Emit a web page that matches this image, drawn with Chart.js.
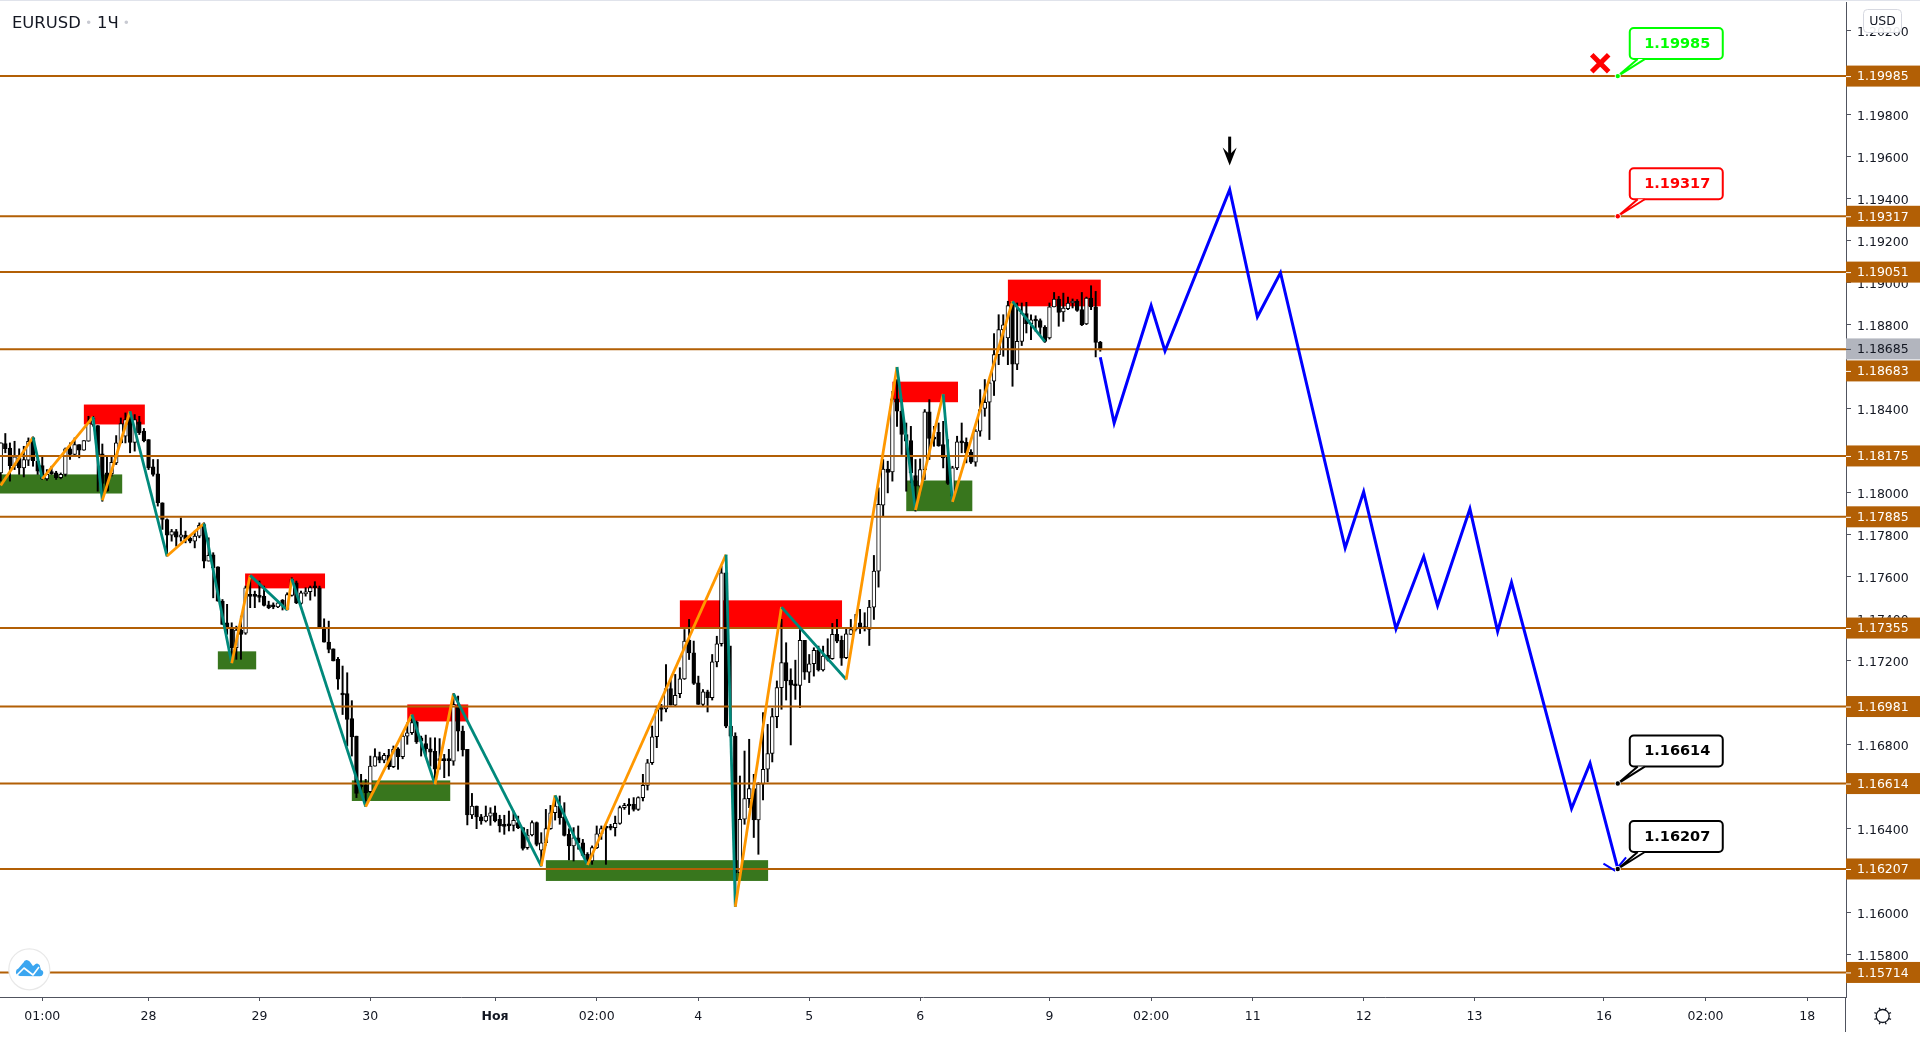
<!DOCTYPE html>
<html>
<head>
<meta charset="utf-8">
<title>EURUSD 1Ч</title>
<script src="https://cdn.jsdelivr.net/npm/chart.js@4/dist/chart.umd.min.js"></script>
<style>
  html, body { margin: 0; padding: 0; background: #ffffff; }
  canvas { display: block; }
</style>
</head>
<body>
<canvas id="chart" width="1920" height="1032"></canvas>
<script>
// Hourly candles
const openPrices = [
  1.18094,1.18234,1.18213,1.18129,1.18166,1.18118,1.18155,1.18261,1.18150,1.18129,
  1.18066,1.18094,1.18094,1.18072,1.18087,1.18209,1.18182,1.18229,1.18202,1.18245,
  1.18325,1.18320,1.18185,1.18094,1.18091,1.18142,1.18237,1.18269,1.18348,1.18240,
  1.18337,1.18293,1.18253,1.18123,1.18090,1.17952,1.17872,1.17798,1.17815,1.17788,
  1.17798,1.17782,1.17769,1.17793,1.17848,1.17674,1.17704,1.17647,1.17483,1.17380,
  1.17356,1.17261,1.17345,1.17330,1.17512,1.17512,1.17507,1.17507,1.17466,1.17463,
  1.17456,1.17488,1.17444,1.17510,1.17571,1.17472,1.17518,1.17528,1.17552,1.17547,
  1.17360,1.17288,1.17256,1.17206,1.17042,1.17043,1.16924,1.16840,1.16605,1.16605,
  1.16575,1.16697,1.16742,1.16726,1.16748,1.16694,1.16780,1.16742,1.16840,1.16856,
  1.16907,1.16832,1.16804,1.16780,1.16767,1.16729,1.16729,1.16729,1.16721,1.16983,
  1.16864,1.16777,1.16464,1.16507,1.16456,1.16436,1.16459,1.16475,1.16444,1.16415,
  1.16420,1.16415,1.16428,1.16404,1.16309,1.16369,1.16428,1.16297,1.16332,1.16399,
  1.16475,1.16507,1.16455,1.16372,1.16317,1.16356,1.16332,1.16277,1.16245,1.16309,
  1.16375,1.16407,1.16407,1.16404,1.16424,1.16499,1.16513,1.16515,1.16491,1.16547,
  1.16605,1.16713,1.16837,1.16973,1.16970,1.17067,1.16988,1.17042,1.17113,1.17297,
  1.17237,1.17094,1.16991,1.17051,1.17023,1.17194,1.17280,1.17618,1.16888,1.16840,
  1.16190,1.16444,1.16542,1.16590,1.16441,1.16611,1.16682,1.16758,1.16933,1.17071,
  1.17190,1.17107,1.17087,1.17082,1.17296,1.17145,1.17185,1.17249,1.17155,1.17225,
  1.17209,1.17325,1.17296,1.17214,1.17325,1.17355,1.17380,1.17361,1.17349,1.17455,
  1.17626,1.17940,1.18113,1.18099,1.18447,1.18388,1.18277,1.18248,1.18082,1.18031,
  1.18110,1.18385,1.18261,1.18288,1.18229,1.18174,1.17983,1.18118,1.18243,1.18240,
  1.18193,1.18145,1.18293,1.18401,1.18431,1.18531,1.18658,1.18777,1.18737,1.18907,
  1.18612,1.18721,1.18853,1.18805,1.18824,1.18820,1.18788,1.18737,1.18885,1.18923,
  1.18861,1.18877,1.18904,1.18912,1.18872,1.18804,1.18927,1.18885,1.18716
]
const highPrices = [
  1.18237,1.18282,1.18237,1.18245,1.18209,1.18221,1.18261,1.18266,1.18174,1.18174,
  1.18110,1.18126,1.18102,1.18094,1.18213,1.18237,1.18261,1.18229,1.18248,1.18364,
  1.18364,1.18320,1.18232,1.18174,1.18174,1.18272,1.18356,1.18380,1.18388,1.18372,
  1.18364,1.18306,1.18253,1.18158,1.18158,1.17952,1.17875,1.17825,1.17825,1.17880,
  1.17817,1.17793,1.17817,1.17856,1.17856,1.17785,1.17714,1.17647,1.17491,1.17468,
  1.17380,1.17364,1.17412,1.17555,1.17602,1.17531,1.17579,1.17555,1.17483,1.17475,
  1.17483,1.17491,1.17523,1.17595,1.17579,1.17531,1.17547,1.17555,1.17576,1.17555,
  1.17399,1.17388,1.17256,1.17215,1.17174,1.17142,1.17009,1.16840,1.16658,1.16634,
  1.16745,1.16780,1.16764,1.16758,1.16777,1.16793,1.16785,1.16848,1.16904,1.16935,
  1.16912,1.16840,1.16845,1.16832,1.16832,1.16828,1.16753,1.16777,1.17043,1.17031,
  1.16888,1.16777,1.16567,1.16507,1.16467,1.16507,1.16499,1.16507,1.16463,1.16463,
  1.16483,1.16483,1.16459,1.16404,1.16396,1.16436,1.16431,1.16380,1.16491,1.16510,
  1.16555,1.16555,1.16523,1.16399,1.16404,1.16412,1.16348,1.16285,1.16317,1.16412,
  1.16412,1.16412,1.16420,1.16459,1.16507,1.16520,1.16542,1.16547,1.16551,1.16658,
  1.16729,1.16888,1.16983,1.16991,1.17181,1.17110,1.17134,1.17166,1.17348,1.17396,
  1.17293,1.17126,1.17062,1.17059,1.17229,1.17316,1.17650,1.17618,1.17269,1.16856,
  1.16650,1.16769,1.16825,1.16658,1.16618,1.16952,1.16896,1.16972,1.17103,1.17396,
  1.17285,1.17161,1.17202,1.17348,1.17296,1.17229,1.17261,1.17269,1.17269,1.17304,
  1.17377,1.17396,1.17317,1.17356,1.17396,1.17420,1.17444,1.17428,1.17487,1.17701,
  1.18023,1.18158,1.18150,1.18483,1.18539,1.18443,1.18332,1.18316,1.18158,1.18161,
  1.18396,1.18443,1.18316,1.18332,1.18340,1.18253,1.18126,1.18269,1.18332,1.18261,
  1.18205,1.18301,1.18491,1.18539,1.18539,1.18758,1.18848,1.18848,1.18912,1.18907,
  1.18904,1.18904,1.18907,1.18848,1.18843,1.18828,1.18796,1.18904,1.18954,1.18935,
  1.18951,1.18932,1.18923,1.18920,1.18954,1.18932,1.18986,1.18959,1.18721
]
const lowPrices = [
  1.18055,1.18190,1.18055,1.18110,1.18087,1.18075,1.18129,1.18126,1.18087,1.18063,
  1.18059,1.18087,1.18063,1.18066,1.18079,1.18158,1.18174,1.18166,1.18202,1.18245,
  1.18317,1.18007,1.17959,1.18007,1.18079,1.18134,1.18237,1.18237,1.18190,1.18198,
  1.18277,1.18242,1.18110,1.18079,1.17936,1.17825,1.17698,1.17769,1.17745,1.17769,
  1.17761,1.17761,1.17737,1.17785,1.17642,1.17674,1.17499,1.17483,1.17372,1.17325,
  1.17190,1.17206,1.17206,1.17325,1.17452,1.17452,1.17479,1.17460,1.17447,1.17447,
  1.17452,1.17441,1.17441,1.17507,1.17471,1.17468,1.17507,1.17488,1.17507,1.17356,
  1.17288,1.17237,1.17198,1.17063,1.16943,1.16793,1.16745,1.16547,1.16571,1.16507,
  1.16571,1.16697,1.16713,1.16713,1.16682,1.16690,1.16682,1.16732,1.16801,1.16848,
  1.16805,1.16745,1.16745,1.16697,1.16618,1.16682,1.16642,1.16650,1.16701,1.16769,
  1.16745,1.16417,1.16447,1.16399,1.16420,1.16431,1.16415,1.16431,1.16383,1.16372,
  1.16388,1.16388,1.16399,1.16297,1.16301,1.16364,1.16317,1.16221,1.16320,1.16396,
  1.16440,1.16420,1.16364,1.16250,1.16245,1.16301,1.16269,1.16229,1.16229,1.16304,
  1.16348,1.16229,1.16393,1.16364,1.16420,1.16491,1.16467,1.16483,1.16486,1.16531,
  1.16583,1.16705,1.16785,1.16912,1.16955,1.16988,1.16983,1.17023,1.17110,1.17205,
  1.17086,1.16991,1.16983,1.16955,1.17012,1.17170,1.17269,1.16880,1.16835,1.16031,
  1.16158,1.16420,1.16499,1.16357,1.16277,1.16536,1.16622,1.16717,1.16880,1.16968,
  1.17012,1.16798,1.17015,1.16976,1.17110,1.17095,1.17126,1.17150,1.17150,1.17198,
  1.17206,1.17285,1.17177,1.17209,1.17325,1.17341,1.17329,1.17341,1.17272,1.17396,
  1.17550,1.17888,1.17999,1.18055,1.18316,1.18182,1.18007,1.18047,1.17912,1.17999,
  1.18063,1.18158,1.18221,1.18221,1.18118,1.18039,1.17959,1.18110,1.18190,1.18142,
  1.18139,1.18126,1.18269,1.18364,1.18253,1.18463,1.18610,1.18650,1.18610,1.18507,
  1.18586,1.18701,1.18761,1.18729,1.18769,1.18753,1.18716,1.18732,1.18885,1.18793,
  1.18816,1.18872,1.18880,1.18864,1.18796,1.18801,1.18872,1.18647,1.18674
]
const closePrices = [
  1.18237,1.18210,1.18129,1.18171,1.18118,1.18158,1.18245,1.18153,1.18102,1.18066,
  1.18087,1.18091,1.18071,1.18088,1.18209,1.18182,1.18229,1.18202,1.18248,1.18332,
  1.18356,1.18174,1.18044,1.18007,1.18145,1.18237,1.18329,1.18348,1.18240,1.18348,
  1.18285,1.18248,1.18118,1.18087,1.17952,1.17872,1.17798,1.17815,1.17788,1.17799,
  1.17777,1.17769,1.17793,1.17845,1.17674,1.17702,1.17642,1.17483,1.17372,1.17356,
  1.17261,1.17345,1.17325,1.17547,1.17506,1.17506,1.17501,1.17463,1.17452,1.17456,
  1.17475,1.17460,1.17515,1.17587,1.17475,1.17523,1.17528,1.17548,1.17547,1.17356,
  1.17288,1.17253,1.17198,1.17111,1.17036,1.16920,1.16836,1.16567,1.16599,1.16570,
  1.16697,1.16742,1.16726,1.16748,1.16694,1.16777,1.16742,1.16840,1.16856,1.16904,
  1.16812,1.16816,1.16780,1.16764,1.16682,1.16723,1.16723,1.16723,1.16991,1.16864,
  1.16774,1.16464,1.16507,1.16455,1.16436,1.16459,1.16475,1.16436,1.16412,1.16410,
  1.16412,1.16439,1.16404,1.16305,1.16369,1.16428,1.16324,1.16332,1.16399,1.16475,
  1.16507,1.16451,1.16367,1.16317,1.16356,1.16332,1.16272,1.16234,1.16309,1.16375,
  1.16399,1.16401,1.16401,1.16424,1.16499,1.16510,1.16507,1.16491,1.16547,1.16605,
  1.16713,1.16837,1.16967,1.16967,1.17067,1.16988,1.17035,1.17113,1.17293,1.17237,
  1.17091,1.16991,1.17051,1.17023,1.17194,1.17280,1.17618,1.16888,1.16840,1.16190,
  1.16444,1.16542,1.16590,1.16441,1.16611,1.16682,1.16757,1.16933,1.17071,1.17190,
  1.17103,1.17083,1.17080,1.17296,1.17145,1.17185,1.17249,1.17155,1.17222,1.17206,
  1.17325,1.17293,1.17212,1.17328,1.17348,1.17349,1.17352,1.17352,1.17455,1.17626,
  1.17944,1.18113,1.18097,1.18447,1.18388,1.18277,1.18245,1.18094,1.18031,1.18110,
  1.18385,1.18258,1.18255,1.18224,1.18166,1.18044,1.18118,1.18242,1.18237,1.18190,
  1.18145,1.18293,1.18396,1.18431,1.18523,1.18658,1.18777,1.18800,1.18891,1.18612,
  1.18721,1.18856,1.18805,1.18824,1.18818,1.18788,1.18721,1.18885,1.18923,1.18859,
  1.18880,1.18904,1.18913,1.18869,1.18801,1.18927,1.18885,1.18716,1.18685
]

// Zigzag swings: bar number and price of each turn
const zigzagBars = [0,7,9,20,22,28,36,44,50,54,62,63,79,89,94,98,117,120,127,157,159,169,183,194,198,204,206,219,226]
const zigzagPrices = [
  1.18034,1.18264,1.18066,1.18361,1.17963,1.18388,1.17698,1.17853,1.17187,1.17606,
  1.17441,1.17590,1.16504,1.16943,1.16610,1.17042,1.16221,1.16558,1.16226,1.17705,
  1.16027,1.17455,1.17110,1.18599,1.17917,1.18470,1.17956,1.18912,1.18720
]

// Blue forecast path
const forecastBars = [238,241,249,252,266,272,277,291,295,302,308,311,318,324,327,340,344,350]
const forecastPrices = [
  1.18645,1.18332,1.18891,1.18675,1.19444,1.18838,1.19048,1.17736,1.18004,1.17351,
  1.17696,1.17462,1.17923,1.17339,1.17572,1.16495,1.16711,1.16209
]
const arrowHeadBars = [346.9,349.5,null,350,351.8]
const arrowHeadPrices = [1.16233,1.16198,null,1.16214,1.16262]

// Support and resistance levels
const levelPrices = [1.19985,1.19317,1.19051,1.18683,1.18175,1.17885,1.17355,1.16981,1.16614,1.16207,1.15714]
const lastPrice = 1.18685

// Zones: start bar, end bar, top price, bottom price
const supplyZones = [
  [18,31.2,1.18420,1.18325],
  [52.9,70.2,1.17615,1.17544],
  [88,101.2,1.16991,1.16910],
  [147,182.1,1.17487,1.17353],
  [193,207.2,1.18529,1.18431],
  [218,238.1,1.19015,1.18888]
]
const demandZones = [
  [-1,26.3,1.18087,1.17996],
  [47,55.3,1.17244,1.17158],
  [76,97.3,1.16629,1.16531],
  [118,166.1,1.16249,1.16150],
  [196,210.3,1.18058,1.17912]
]

// Target callouts, all hung on the same bar
const calloutBar = 350
const calloutPrices = [1.19985,1.19317,1.16614,1.16207]
const rejectedBar = 346.2
const rejectedPrice = 1.20046
const arrowBar = 266
const arrowPrice = 1.19444

const xTickBars = [9,32,56,80,107,129,151,175,199,227,249,271,295,319,347,369,391]
const xTickLabels = ['01:00','28','29','30','Ноя','02:00','4','5','6','9','02:00','11','12','13','16','02:00','18']
const yTicks = [1.158,1.16,1.162,1.164,1.166,1.168,1.17,1.172,1.174,1.176,1.178,1.18,1.182,1.184,1.186,1.188,1.19,1.192,1.194,1.196,1.198,1.2,1.202]

const FONT = '"DejaVu Sans", sans-serif'
const AXIS_COLOR = '#50535e'
const TEXT_COLOR = '#131722'
const LEVEL_COLOR = '#b25f05'
const CALLOUT_COLORS = ['#00ff00', '#ff0000', '#000000', '#000000']

const xMin = -0.15
const xMax = 399.4
const yMin = 1.15597
const yMax = 1.20338

const points = (xs, ys) => xs.map((x, i) => ({ x, y: ys[i] }))

const wickData = openPrices.map((_, i) => ({ x: i, y: [lowPrices[i], highPrices[i]] }))
const bodyData = openPrices.map((o, i) => ({ x: i, y: [o, closePrices[i]] }))
const bodyColors = openPrices.map((o, i) => closePrices[i] >= o ? '#ffffff' : '#000000')

const levelDatasets = levelPrices.map(price => ({
  type: 'line',
  data: [{ x: xMin, y: price }, { x: xMax, y: price }],
  borderColor: LEVEL_COLOR,
  borderWidth: 2,
  pointRadius: 0,
  order: 4
}))

// No room kept for the outermost tick labels, the plot runs to the edges
const clearPadding = scale => {
  scale.paddingLeft = scale.paddingRight = scale.paddingTop = scale.paddingBottom = 0
}

// Filled boxes behind the candles
const zonesPlugin = {
  id: 'zones',
  beforeDatasetsDraw(chart) {
    const { ctx, chartArea, scales: { x, y } } = chart
    const fillZones = (zones, color) => {
      ctx.fillStyle = color
      zones.forEach(z => {
        const left = x.getPixelForValue(z[0])
        const top = y.getPixelForValue(z[2])
        ctx.fillRect(left, top, x.getPixelForValue(z[1]) - left, y.getPixelForValue(z[3]) - top)
      })
    }
    ctx.save()
    ctx.beginPath()
    ctx.rect(chartArea.left, chartArea.top, chartArea.width, chartArea.height)
    ctx.clip()
    fillZones(supplyZones, '#ff0000')
    fillZones(demandZones, '#38761d')
    ctx.restore()
  }
}

function drawCallout(ctx, ax, ay, text, color) {
  const left = ax + 12, right = ax + 105, top = ay - 48, bottom = ay - 17
  ctx.strokeStyle = color
  ctx.fillStyle = '#ffffff'
  ctx.lineWidth = 2
  ctx.lineJoin = 'round'
  ctx.beginPath()
  ctx.roundRect(left, top, right - left, bottom - top, 4)
  ctx.fill()
  ctx.stroke()
  // tail: white wedge with coloured edges, opening into the box
  ctx.beginPath()
  ctx.moveTo(ax + 27, bottom)
  ctx.lineTo(ax, ay)
  ctx.lineTo(ax + 20, bottom)
  ctx.closePath()
  ctx.fill()
  ctx.beginPath()
  ctx.moveTo(ax + 27, bottom)
  ctx.lineTo(ax, ay)
  ctx.lineTo(ax + 20, bottom)
  ctx.stroke()
  ctx.beginPath()
  ctx.arc(ax, ay, 3, 0, Math.PI * 2)
  ctx.fillStyle = '#ffffff'
  ctx.fill()
  ctx.beginPath()
  ctx.arc(ax, ay, 2.2, 0, Math.PI * 2)
  ctx.fillStyle = color
  ctx.fill()
  ctx.fillStyle = color
  ctx.font = 'bold 14.5px ' + FONT
  ctx.textAlign = 'center'
  ctx.textBaseline = 'middle'
  ctx.fillText(text, (left + right) / 2 + 1, (top + bottom) / 2 + 0.5)
}

function drawPriceTag(ctx, tagY, text, background, color, tickColor) {
  ctx.fillStyle = background
  ctx.fillRect(1846, tagY - 10.5, 74, 21)
  ctx.strokeStyle = tickColor
  ctx.lineWidth = 1
  ctx.beginPath()
  ctx.moveTo(1846, tagY + 0.5)
  ctx.lineTo(1851, tagY + 0.5)
  ctx.stroke()
  ctx.fillStyle = color
  ctx.font = '12.5px ' + FONT
  ctx.textAlign = 'left'
  ctx.textBaseline = 'middle'
  ctx.fillText(text, 1857, tagY + 1)
}

function drawLogo(ctx) {
  ctx.beginPath()
  ctx.arc(29.3, 969.3, 20.5, 0, Math.PI * 2)
  ctx.fillStyle = '#ffffff'
  ctx.fill()
  ctx.strokeStyle = '#e8e8e8'
  ctx.lineWidth = 1.2
  ctx.stroke()
  ctx.fillStyle = '#3ba6f0'
  ctx.beginPath()
  ctx.moveTo(19, 976)
  ctx.arc(19.5, 972, 3.6, Math.PI / 2, Math.PI * 1.4)
  ctx.lineTo(23, 963)
  ctx.arc(27, 964, 3.8, Math.PI * 1.1, Math.PI * 1.9)
  ctx.lineTo(33, 966)
  ctx.arc(37, 967, 3.2, Math.PI * 1.2, Math.PI * 1.8)
  ctx.arc(40, 973, 3.2, Math.PI * 1.6, Math.PI / 2)
  ctx.closePath()
  ctx.fill()
  ctx.strokeStyle = '#ffffff'
  ctx.lineWidth = 1.6
  ctx.beginPath()
  ctx.moveTo(15, 977)
  ctx.lineTo(24, 968)
  ctx.lineTo(33, 975)
  ctx.lineTo(39, 967)
  ctx.stroke()
}

function drawGear(ctx, cx, cy) {
  ctx.strokeStyle = TEXT_COLOR
  ctx.lineWidth = 1.3
  ctx.beginPath()
  ctx.arc(cx, cy, 6.5, 0, Math.PI * 2)
  ctx.stroke()
  for (let a = 0; a < 8; a++) {
    const t = a * Math.PI / 4 + Math.PI / 8
    ctx.beginPath()
    ctx.moveTo(cx + Math.cos(t) * 6.5, cy + Math.sin(t) * 6.5)
    ctx.lineTo(cx + Math.cos(t) * 9, cy + Math.sin(t) * 9)
    ctx.stroke()
  }
}

// Everything TradingView paints over the plot: tags, callouts, title, buttons
const overlayPlugin = {
  id: 'overlay',
  afterDraw(chart) {
    const { ctx, scales: { x, y } } = chart
    ctx.save()

    // top strip and the bit of the price axis running under the time axis
    ctx.fillStyle = '#e0e3eb'
    ctx.fillRect(0, 0, 1920, 1)
    ctx.strokeStyle = AXIS_COLOR
    ctx.lineWidth = 1
    ctx.beginPath()
    ctx.moveTo(1845.5, 997)
    ctx.lineTo(1845.5, 1032)
    ctx.stroke()

    // price tags, pushed down when two would overlap
    const tags = levelPrices.map(price => ({ price, last: false }))
    tags.push({ price: lastPrice, last: true })
    tags.sort((a, b) => b.price - a.price)
    let previous = -100
    tags.forEach(tag => {
      let tagY = y.getPixelForValue(tag.price)
      if (tagY - previous < 22) tagY = previous + 22
      previous = tagY
      if (tag.last) drawPriceTag(ctx, tagY, tag.price.toFixed(5), '#b2b5be', TEXT_COLOR, AXIS_COLOR)
      else drawPriceTag(ctx, tagY, tag.price.toFixed(5), LEVEL_COLOR, '#ffffff', '#ffffff')
    })

    calloutPrices.forEach((price, i) => {
      drawCallout(ctx, x.getPixelForValue(calloutBar), y.getPixelForValue(price), price.toFixed(5), CALLOUT_COLORS[i])
    })

    // black arrow above the forecast peak
    const ax = x.getPixelForValue(arrowBar)
    const ay = y.getPixelForValue(arrowPrice)
    ctx.strokeStyle = '#000000'
    ctx.fillStyle = '#000000'
    ctx.lineWidth = 3
    ctx.beginPath()
    ctx.moveTo(ax, ay - 53)
    ctx.lineTo(ax, ay - 32)
    ctx.stroke()
    ctx.beginPath()
    ctx.moveTo(ax - 7, ay - 42)
    ctx.lineTo(ax, ay - 24)
    ctx.lineTo(ax + 7, ay - 42)
    ctx.lineTo(ax, ay - 35)
    ctx.closePath()
    ctx.fill()

    // title
    ctx.fillStyle = TEXT_COLOR
    ctx.font = '16.4px ' + FONT
    ctx.textAlign = 'left'
    ctx.textBaseline = 'alphabetic'
    ctx.fillText('EURUSD', 12, 28)
    ctx.fillText('1Ч', 97, 28)
    ctx.fillStyle = '#c8cad2'
    ctx.beginPath()
    ctx.arc(88.7, 22.3, 1.8, 0, Math.PI * 2)
    ctx.arc(126.3, 22.3, 1.8, 0, Math.PI * 2)
    ctx.fill()

    // USD button
    ctx.beginPath()
    ctx.roundRect(1863.5, 9.5, 38, 23, 4)
    ctx.fillStyle = 'rgba(255,255,255,0.9)'
    ctx.fill()
    ctx.strokeStyle = '#d6d8e0'
    ctx.lineWidth = 1
    ctx.stroke()
    ctx.fillStyle = TEXT_COLOR
    ctx.font = '12.5px ' + FONT
    ctx.textAlign = 'center'
    ctx.textBaseline = 'middle'
    ctx.fillText('USD', 1882.5, 21.5)

    drawLogo(ctx)
    drawGear(ctx, 1882.7, 1016)
    ctx.restore()
  }
}

new Chart(document.getElementById('chart'), {
  type: 'bar',
  data: {
    datasets: [
      {
        data: wickData,
        backgroundColor: '#000000',
        barThickness: 1.3,
        order: 6
      },
      {
        data: bodyData,
        backgroundColor: bodyColors,
        borderColor: '#000000',
        borderWidth: 1,
        borderSkipped: false,
        barThickness: 3.8,
        minBarLength: 2,
        order: 5
      },
      ...levelDatasets,
      {
        type: 'line',
        data: points(zigzagBars, zigzagPrices),
        borderWidth: 2.8,
        pointRadius: 0,
        order: 3,
        segment: {
          borderColor: c => c.p1.parsed.y >= c.p0.parsed.y ? '#ff9800' : '#00897b'
        }
      },
      {
        type: 'line',
        data: points(forecastBars, forecastPrices),
        borderColor: '#0000ff',
        borderWidth: 3,
        borderJoinStyle: 'miter',
        pointRadius: 0,
        order: 2
      },
      {
        type: 'line',
        data: points(arrowHeadBars, arrowHeadPrices),
        borderColor: '#0000ff',
        borderWidth: 2,
        pointRadius: 0,
        spanGaps: false,
        order: 2
      },
      {
        type: 'line',
        data: [{ x: rejectedBar, y: rejectedPrice }],
        showLine: false,
        pointStyle: 'crossRot',
        pointRadius: 12,
        pointBorderColor: '#ff0000',
        pointBorderWidth: 5,
        order: 1
      }
    ]
  },
  options: {
    responsive: false,
    animation: false,
    devicePixelRatio: 1,
    events: [],
    grouped: false,
    layout: { autoPadding: false, padding: { top: 2 } },
    plugins: {
      legend: { display: false },
      tooltip: { enabled: false }
    },
    scales: {
      x: {
        type: 'linear',
        min: xMin,
        max: xMax,
        offset: false,
        afterFit: scale => {
          clearPadding(scale)
          scale.height = 35
        },
        afterBuildTicks: scale => { scale.ticks = xTickBars.map(value => ({ value })) },
        border: { color: AXIS_COLOR, width: 1 },
        grid: { drawOnChartArea: false, color: AXIS_COLOR, tickLength: 4, offset: false },
        ticks: {
          autoSkip: false,
          maxRotation: 0,
          padding: 8,
          color: TEXT_COLOR,
          font: ctx => ({ family: FONT, size: 12.5, weight: ctx.tick && ctx.tick.label === 'Ноя' ? 'bold' : 'normal' }),
          callback: (value, index) => xTickLabels[index]
        }
      },
      y: {
        position: 'right',
        min: yMin,
        max: yMax,
        afterFit: scale => {
          clearPadding(scale)
          scale.width = 74
        },
        afterBuildTicks: scale => { scale.ticks = yTicks.map(value => ({ value })) },
        border: { color: AXIS_COLOR, width: 1 },
        grid: { drawOnChartArea: false, color: AXIS_COLOR, tickLength: 5 },
        ticks: {
          autoSkip: false,
          padding: 6,
          labelOffset: 2,
          color: TEXT_COLOR,
          font: { family: FONT, size: 12.5 },
          callback: value => value.toFixed(5)
        }
      }
    }
  },
  plugins: [zonesPlugin, overlayPlugin]
})
</script>
</body>
</html>
